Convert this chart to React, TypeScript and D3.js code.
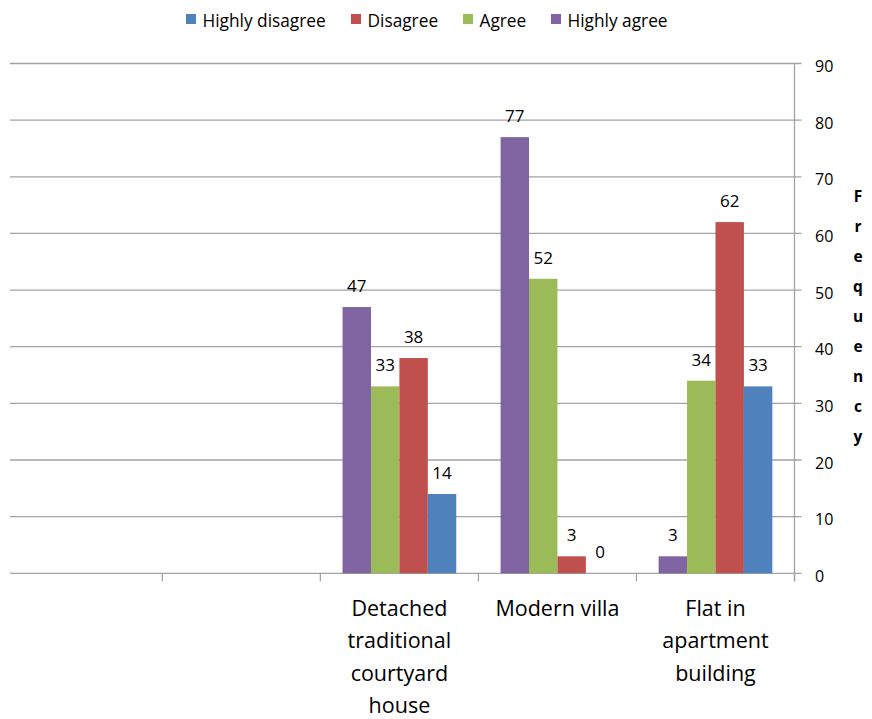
import React from "react";
import * as d3 from "d3";

const categories = ["", "", "Detached traditional courtyard house", "Modern villa", "Flat in apartment building"];
const categoryLines = [[], [], ["Detached", "traditional", "courtyard", "house"], ["Modern villa"], ["Flat in", "apartment", "building"]];
const seriesNames = ["Highly agree", "Agree", "Disagree", "Highly disagree"];
const highlyAgree = [null, null, 47, 77, 3];
const agree = [null, null, 33, 52, 34];
const disagree = [null, null, 38, 3, 62];
const highlyDisagree = [null, null, 14, 0, 33];
const seriesValues = [highlyAgree, agree, disagree, highlyDisagree];
const seriesColors = ["#8064A2", "#9BBB59", "#C0504D", "#4F81BD"];
const yTicks = [0, 10, 20, 30, 40, 50, 60, 70, 80, 90];
const legendOrder = ["Highly disagree", "Disagree", "Agree", "Highly agree"];
const legendColors = ["#4F81BD", "#C0504D", "#9BBB59", "#8064A2"];
const axisTitle = "Frequency";

const FONT = "'Open Sans', 'Liberation Sans', sans-serif";

export default function App() {
  const W = 872, H = 719;
  const plotLeft = 4.3, plotRight = 794.5, plotTop = 63.5, plotBottom = 573.3;
  const x = d3.scaleBand<string>().domain(categories.map((c, i) => String(i))).range([plotLeft, plotRight]).paddingInner(0).paddingOuter(0);
  const y = d3.scaleLinear().domain([0, 90]).range([plotBottom, plotTop]);
  const bw = x.bandwidth();
  const inner = d3.scaleBand<string>().domain(seriesNames).range([0, bw]).paddingOuter(0.78).paddingInner(0);
  const gridStart = 10;
  const legendX = [186, 351, 463, 551];

  const boundaries = categories.map((c, i) => x(String(i))!).slice(1).concat([plotRight]);

  return (
    <svg width={W} height={H} style={{ position: "absolute", left: 0, top: 0, background: "#fff" }} fontFamily={FONT}>
      {yTicks.map((t) => (
        <line key={"g" + t} x1={gridStart} x2={plotRight + 7} y1={y(t)} y2={y(t)} stroke="#a3a3a3" strokeWidth={1.3} />
      ))}
      <line x1={plotRight} x2={plotRight} y1={plotTop} y2={plotBottom + 8} stroke="#a3a3a3" strokeWidth={1.3} />
      {boundaries.map((b, i) => (
        <line key={"t" + i} x1={b} x2={b} y1={plotBottom} y2={plotBottom + 8} stroke="#a3a3a3" strokeWidth={1.3} />
      ))}
      {seriesValues.map((vals, si) =>
        vals.map((v, ci) => {
          if (v === null) return null;
          const bx = x(String(ci))! + inner(seriesNames[si])!;
          const w = inner.bandwidth();
          return (
            <g key={si + "-" + ci}>
              <rect x={bx} y={y(v)} width={w} height={plotBottom - y(v)} fill={seriesColors[si]} />
              <text x={bx + w / 2} y={y(v) - 15} textAnchor="middle" fontSize={17} fill="#000">{v}</text>
            </g>
          );
        })
      )}
      {yTicks.map((t) => (
        <text key={"yl" + t} x={815} y={y(t) + 8.5} fontSize={16} fill="#000">{t}</text>
      ))}
      {axisTitle.split("").map((ch, i) => (
        <text key={"at" + i} x={858} y={202 + i * 30} textAnchor="middle" fontSize={15.5} fontWeight="bold" fill="#000">{ch}</text>
      ))}
      {categoryLines.map((lines, ci) =>
        lines.map((ln, li) => (
          <text key={"c" + ci + "-" + li} x={x(String(ci))! + bw / 2} y={615.5 + li * 32.5} textAnchor="middle" fontSize={21.5} fill="#000">{ln}</text>
        ))
      )}
      {legendOrder.map((name, i) => (
        <g key={"lg" + i}>
          <rect x={legendX[i]} y={14} width={10} height={10} fill={legendColors[i]} />
          <text x={legendX[i] + 16.5} y={26.5} fontSize={17.3} fill="#000">{name}</text>
        </g>
      ))}
    </svg>
  );
}
